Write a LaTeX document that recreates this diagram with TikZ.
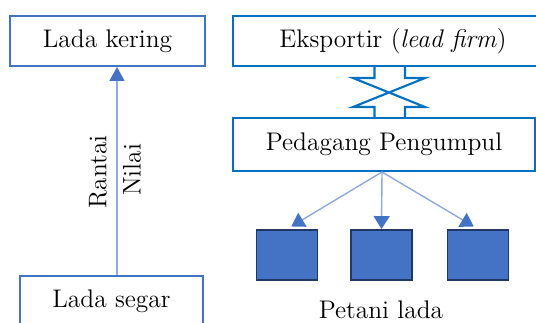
\documentclass[tikz,border=0pt]{standalone}
\usetikzlibrary{arrows.meta}
\definecolor{birumuda}{HTML}{4472C4}
\definecolor{birutua}{HTML}{0070C0}
\definecolor{birugaris}{HTML}{8FAADC}
\definecolor{birugelap}{HTML}{203864}
\begin{document}
\begin{tikzpicture}[x=0.02cm, y=0.02cm, line join=miter, font=\fontsize{14.5}{17}\selectfont,
    kotak/.style={draw=birumuda, line width=1.1pt, fill=white, inner sep=0pt},
    kotakb/.style={draw=birutua, line width=1.1pt, fill=white, inner sep=0pt},
    petani/.style={draw=birugelap, line width=1.1pt, fill=birumuda, minimum width=1.22cm, minimum height=1cm},
    panah/.style={birugaris, line width=0.8pt, -{Triangle[length=0.26cm, width=0.32cm, color=birumuda]}}]
    \useasboundingbox (0,0) rectangle (536,-322);
    \clip (0,0) rectangle (536,-322);
    % rantai nilai
    \node[kotak, minimum width=3.9cm, minimum height=1cm] (kering) at (107.5,-41) {Lada kering};
    \node[kotak, minimum width=3.66cm, minimum height=1cm] (segar) at (111.5,-301) {Lada segar};
    \coordinate (as) at (117,0);
    \draw[panah, -{Triangle[length=0.28cm, width=0.3cm, color=birumuda]}] (segar.north -| as) -- (kering.south -| as);
    \node[rotate=90] (rantai) at (98,-172) {Rantai};
    \node[rotate=90] (nilai) at (132,-170) {Nilai};
    % pelaku
    \node[kotakb, minimum width=6.4cm, minimum height=1cm] (ekspor) at (393,-41) {Eksportir (\textit{lead firm})};
    \node[kotakb, minimum width=6.04cm, minimum height=1.06cm] (pedagang) at (384,-144.5) {Pedagang Pengumpul};
    \coordinate (ki) at (374.5,0);
    \coordinate (ka) at (405,0);
    \draw[birutua, line width=1.2pt]
        (ekspor.south -| ki) -- (374.5,-78) -- (353,-78) -- (425,-107) -- (405,-107) -- (pedagang.north -| ka)
        (ekspor.south -| ka) -- (405,-78) -- (425,-78) -- (353,-107) -- (374.5,-107) -- (pedagang.north -| ki);
    \node[petani] (p1) at (287,-255) {};
    \node[petani] (p2) at (381.5,-255) {};
    \node[petani] (p3) at (478,-255) {};
    \coordinate (pusat) at (382,0);
    \draw[panah, shorten >=0.1cm] (pedagang.south -| pusat) -- (p1.north);
    \draw[panah] (pedagang.south -| pusat) -- (p2.north);
    \draw[panah, shorten >=0.1cm] (pedagang.south -| pusat) -- (p3.north);
    \node (label) at (381,-310) {Petani lada};
\end{tikzpicture}
\end{document}
